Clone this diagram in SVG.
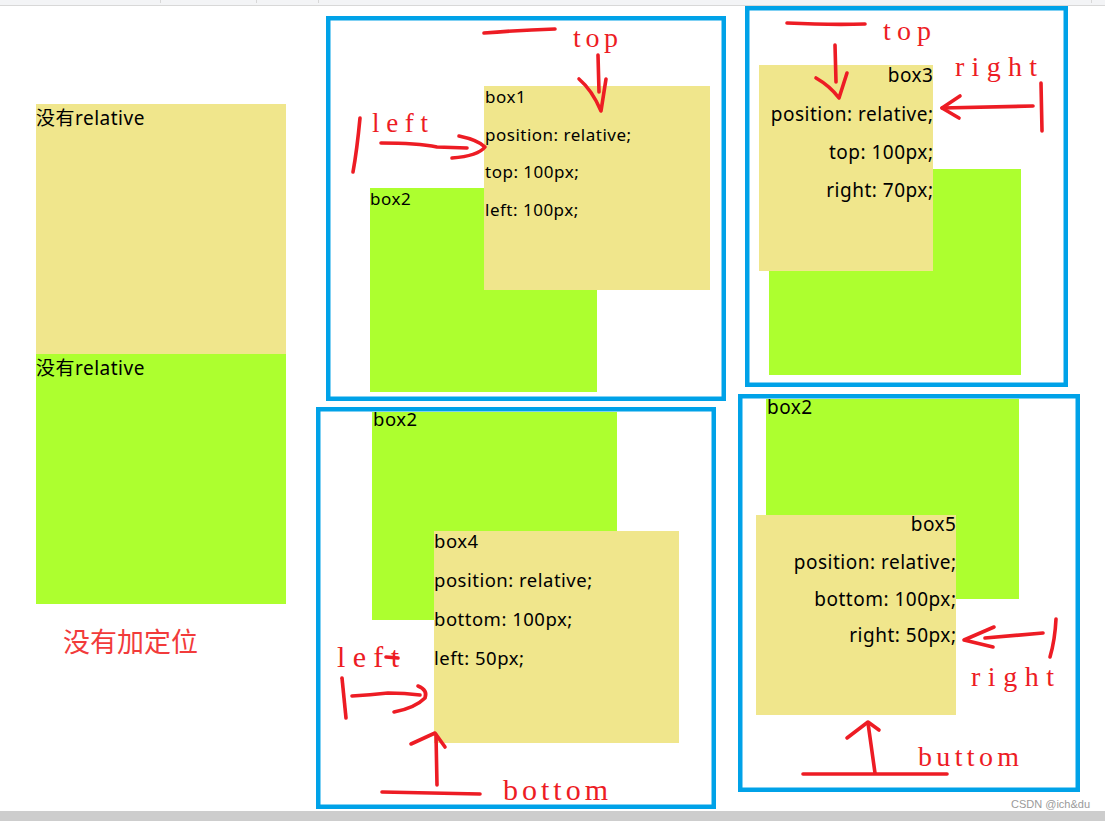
<svg xmlns="http://www.w3.org/2000/svg" width="1105" height="821" viewBox="0 0 1105 821">
<defs>
<style>
.panel{fill:none;stroke:#00a2e8;stroke-width:4.5}
.yel{fill:#f0e68c}
.grn{fill:#adff2f}
.t{font-family:"Noto Sans","Noto Sans CJK SC",sans-serif;font-size:17px;letter-spacing:0.5px;fill:#000}
.t4{font-family:"Noto Sans","Noto Sans CJK SC",sans-serif;font-size:18.5px;letter-spacing:0.5px;fill:#000}
.t5{font-family:"Noto Sans","Noto Sans CJK SC",sans-serif;font-size:19px;letter-spacing:0.5px;fill:#000}
.te{font-family:"Noto Sans","Noto Sans CJK SC",sans-serif;font-size:19px;letter-spacing:0.5px;fill:#000;text-anchor:end}
.cn{font-family:"Noto Sans","Noto Sans CJK SC",sans-serif;font-size:19px;letter-spacing:0.5px;fill:#000}
.lab{font-family:"Liberation Serif",serif;fill:#ed1c24}
.pen{fill:none;stroke:#ed1c24;stroke-width:3.6;stroke-linecap:round;stroke-linejoin:round}
</style>
</defs>
<rect x="0" y="0" width="1105" height="821" fill="#ffffff"/>
<rect x="0" y="0" width="1105" height="5" fill="#f3f4f6"/>
<rect x="0" y="5" width="1105" height="1" fill="#d8d8d8"/>
<g fill="#d8d8d8"><rect x="160" y="0" width="1" height="3"/><rect x="256" y="0" width="1" height="3"/><rect x="318" y="0" width="1" height="3"/><rect x="1091" y="0" width="1" height="3"/></g>
<rect x="0" y="811" width="1105" height="10" fill="#cdcdcd"/>

<g id="no-position">
<rect class="yel" x="36" y="104" width="250" height="250"/>
<text class="cn" x="36" y="125">没有relative</text>
<rect class="grn" x="36" y="354" width="250" height="250"/>
<text class="cn" x="36" y="375">没有relative</text>
<text x="63" y="652" font-family="'Noto Sans CJK SC',sans-serif" font-size="27" fill="#f23b3b">没有加定位</text>
</g>

<g id="panel-top-left">
<rect class="panel" x="328.25" y="18.25" width="395.5" height="380.5"/>
<rect class="grn" x="370" y="188" width="227" height="204"/>
<text class="t" x="370" y="205">box2</text>
<rect class="yel" x="484" y="86" width="226" height="204"/>
<text class="t" x="485" y="103">box1</text>
<text class="t" x="485" y="141">position: relative;</text>
<text class="t" x="485" y="178">top: 100px;</text>
<text class="t" x="485" y="216">left: 100px;</text>
</g>

<g id="panel-top-right">
<rect class="panel" x="747.25" y="8.25" width="318.5" height="376.5"/>
<rect class="grn" x="769" y="169" width="252" height="206"/>
<rect class="yel" x="759" y="65" width="174" height="206"/>
<text class="te" x="933.5" y="82">box3</text>
<text class="te" x="933.5" y="121">position: relative;</text>
<text class="te" x="933.5" y="159">top: 100px;</text>
<text class="te" x="933.5" y="197">right: 70px;</text>
</g>

<g id="panel-bottom-left">
<rect class="panel" x="318.25" y="409.25" width="395.5" height="397.5"/>
<rect class="grn" x="372" y="412" width="245" height="208"/>
<text class="t4" x="373" y="426">box2</text>
<rect class="yel" x="434" y="531" width="245" height="212"/>
<text class="t4" x="434" y="548">box4</text>
<text class="t4" x="434" y="587">position: relative;</text>
<text class="t4" x="434" y="626">bottom: 100px;</text>
<text class="t4" x="434" y="665">left: 50px;</text>
</g>

<g id="panel-bottom-right">
<rect class="panel" x="740.25" y="396.25" width="337.5" height="393.5"/>
<rect class="grn" x="766" y="399" width="253" height="200"/>
<text class="t5" x="767" y="414">box2</text>
<rect class="yel" x="756" y="515" width="200" height="200"/>
<text class="te" x="956.5" y="531">box5</text>
<text class="te" x="956.5" y="569">position: relative;</text>
<text class="te" x="956.5" y="606">bottom: 100px;</text>
<text class="te" x="956.5" y="642">right: 50px;</text>
</g>

<g id="annotations">
<path class="pen" d="M484 33 Q520 30 555 29"/>
<path class="pen" d="M598 55 L599 92"/>
<path class="pen" d="M579 79 Q592 90 601 111 L606 79"/>
<path class="pen" d="M360 118 Q357 150 353 172"/>
<path class="pen" d="M381 143 Q417 143 437 147 L467 148"/>
<path class="pen" d="M459 136 Q478 140 485 147 Q478 156 452 158"/>

<path class="pen" d="M787 23 Q830 25 865 24"/>
<path class="pen" d="M835 45 L836 82"/>
<path class="pen" d="M816 78 Q830 86 839 98 L847 73"/>
<path class="pen" d="M1041 83 L1042 131"/>
<path class="pen" d="M1033 106 L942 108"/>
<path class="pen" d="M960 96 L942 108 L959 118"/>

<path class="pen" d="M342 678 L346 718"/>
<path class="pen" d="M352 696 Q370 695 388 693 Q405 693 420 695"/>
<path class="pen" d="M418 686 Q428 690 425 698 Q415 708 394 712"/>
<path class="pen" d="M386 657 L398 658"/>
<path class="pen" d="M437 785 L436 735"/>
<path class="pen" d="M411 744 L435 733 L445 747"/>
<path class="pen" d="M382 792 Q430 793 480 794"/>

<path class="pen" d="M1056 619 Q1055 640 1050 657"/>
<path class="pen" d="M1043 633 L985 638"/>
<path class="pen" d="M994 627 L964 640 L993 647"/>
<path class="pen" d="M875 773 L868 723"/>
<path class="pen" d="M847 738 L868 722 L879 730"/>
<path class="pen" d="M803 774 L947 774"/>
</g>

<g id="labels">
<text class="lab" x="573" y="47" font-size="28" textLength="45" lengthAdjust="spacing">top</text>
<text class="lab" x="372" y="132" font-size="27" textLength="56" lengthAdjust="spacing">left</text>
<text class="lab" x="883" y="40" font-size="28" textLength="48" lengthAdjust="spacing">top</text>
<text class="lab" x="955" y="76" font-size="28" textLength="82" lengthAdjust="spacing">right</text>
<text class="lab" x="337" y="667" font-size="30" textLength="62" lengthAdjust="spacing">left</text>
<text class="lab" x="503" y="800" font-size="30" textLength="105" lengthAdjust="spacing">bottom</text>
<text class="lab" x="971" y="686" font-size="28" textLength="83" lengthAdjust="spacing">right</text>
<text class="lab" x="918" y="766" font-size="28" textLength="101" lengthAdjust="spacing">buttom</text>
</g>

<text x="1011" y="808" font-family="'Liberation Sans',sans-serif" font-size="11" fill="#9a9a9a">CSDN @ich&amp;du</text>
</svg>
